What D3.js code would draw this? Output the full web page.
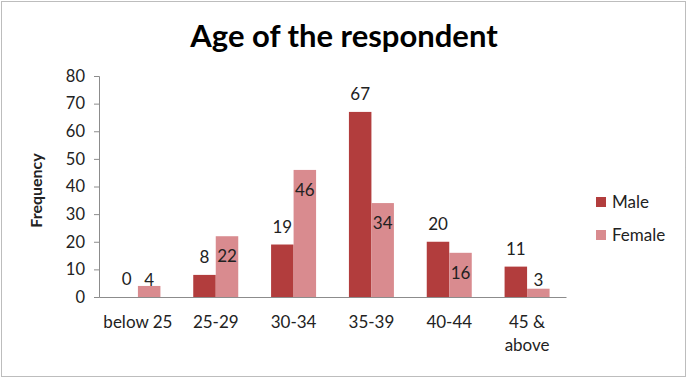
<!DOCTYPE html>
<html>
<head>
<meta charset="utf-8">
<script src="https://cdn.jsdelivr.net/npm/d3@7"></script>
<style>
  body { margin: 0; background: #fff; }
  text { font-family: Lato, "Open Sans", sans-serif; fill: #222; }
</style>
</head>
<body>
<div class="chart"></div>
<script>
const categories = ["below 25", "25-29", "30-34", "35-39", "40-44", "45 & above"];
const seriesNames = ["Male", "Female"];
const male = [0, 8, 19, 67, 20, 11];
const female = [4, 22, 46, 34, 16, 3];
const yTicks = [0, 10, 20, 30, 40, 50, 60, 70, 80];

const width = 687, height = 378;
const margin = {top: 76, left: 99, right: 121, bottom: 81};
const colors = {Male: "#b23d3d", Female: "#d98b8f"};

const data = categories.map((c, i) => ({cat: c, Male: male[i], Female: female[i]}));

const svg = d3.select(".chart")
  .append("svg")
    .attr("width", width)
    .attr("height", height);

// outer dotted frame
svg.append("rect")
  .attr("x", 1.5).attr("y", 1.5)
  .attr("width", width - 3).attr("height", height - 3)
  .attr("fill", "none")
  .attr("stroke", "#7a7a7a")
  .attr("stroke-dasharray", "1,1");

const x = d3.scaleBand()
  .domain(categories)
  .range([margin.left, width - margin.right])
  .padding(0);

const x1 = d3.scaleBand()
  .domain(seriesNames)
  .range([0, 45]);

const y = d3.scaleLinear()
  .domain([0, 80])
  .range([height - margin.bottom, margin.top]);

// title
svg.append("text")
  .attr("x", 344)
  .attr("y", 47)
  .attr("text-anchor", "middle")
  .style("font-size", "31px")
  .style("font-weight", "bold")
  .style("fill", "#000")
  .text("Age of the respondent");

// y axis
const yAxis = svg.append("g")
  .attr("transform", `translate(${margin.left},0)`)
  .call(d3.axisLeft(y).tickValues(yTicks).tickSize(5).tickSizeOuter(5).tickPadding(9));
yAxis.selectAll("path, line").attr("stroke", "#8c8c8c");
yAxis.selectAll("text").style("font-size", "16.5px").style("fill", "#222")
  .style("font-family", "Lato, sans-serif");

svg.append("text")
  .attr("transform", `translate(42,${(y(0) + y(80)) / 2 + 4}) rotate(-90)`)
  .attr("text-anchor", "middle")
  .style("font-size", "16px")
  .style("font-weight", "bold")
  .text("Frequency");

// bars
const groups = svg.append("g")
  .selectAll("g")
  .data(data)
  .join("g")
    .attr("transform", d => `translate(${x(d.cat) + (x.bandwidth() - 45) / 2},0)`);

groups.selectAll("rect")
  .data(d => seriesNames.map(k => ({key: k, value: d[k]})))
  .join("rect")
    .attr("x", d => x1(d.key))
    .attr("y", d => y(d.value))
    .attr("width", x1.bandwidth())
    .attr("height", d => y(0) - y(d.value))
    .attr("fill", d => colors[d.key]);

// data labels
groups.selectAll("text")
  .data(d => seriesNames.map(k => ({key: k, value: d[k]})))
  .join("text")
    .attr("x", d => x1(d.key) + x1.bandwidth() / 2)
    .attr("y", d => d.key === "Male"
      ? y(d.value) - 17.5
      : Math.min(y(d.value) + 20, y(0) - 17))
    .attr("dy", "0.35em")
    .attr("text-anchor", "middle")
    .style("font-size", "17px")
    .text(d => d.value);

// x axis
const xAxis = svg.append("g")
  .attr("transform", `translate(0,${y(0)})`)
  .call(d3.axisBottom(x).tickSize(0).tickSizeOuter(0).tickPadding(19));
xAxis.select(".domain").attr("stroke", "#8c8c8c");
xAxis.selectAll("text")
  .style("font-size", "17px")
  .style("fill", "#222")
  .style("font-family", "Lato, sans-serif")
  .each(function(d) {
    const t = d3.select(this);
    const words = d === "45 & above" ? ["45 &", "above"] : [d];
    t.text(null);
    words.forEach((w, i) => t.append("tspan")
      .attr("x", 0)
      .attr("dy", i === 0 ? "0.71em" : "1.35em")
      .text(w));
  });

// legend
const legend = svg.append("g")
  .selectAll("g")
  .data(seriesNames)
  .join("g")
    .attr("transform", (d, i) => `translate(596,${202 + i * 33})`);
legend.append("rect")
  .attr("x", 0).attr("y", -5)
  .attr("width", 10).attr("height", 10)
  .attr("fill", d => colors[d]);
legend.append("text")
  .attr("x", 16)
  .attr("dy", "0.35em")
  .style("font-size", "17px")
  .text(d => d);
</script>
</body>
</html>
